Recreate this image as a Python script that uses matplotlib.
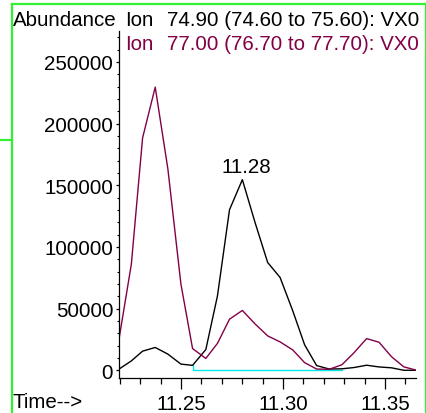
import matplotlib
matplotlib.use("Agg")
from matplotlib import pyplot as plt
from matplotlib.lines import Line2D
from matplotlib.ticker import MultipleLocator

plt.rcParams['font.family'] = ['Liberation Sans', 'DejaVu Sans']

# scan times (min) and ion abundances
times = [11.2195, 11.2257, 11.2312, 11.2374, 11.2436, 11.2500, 11.2557,
         11.2622, 11.2679, 11.2738, 11.2801, 11.2863, 11.2925, 11.2986,
         11.3048, 11.3106, 11.3165, 11.3227, 11.3289, 11.3347, 11.3410,
         11.3471, 11.3532, 11.3592, 11.3651]
ion_749 = [800, 7600, 15500, 18500, 13100, 5000, 4000, 16800, 60300, 130100,
           154500, 119900, 87400, 75200, 48200, 20700, 3800, 1000, 1200, 2200,
           4100, 2700, 2000, 0, 0]
ion_770 = [23800, 86000, 188300, 229500, 163200, 69800, 17600, 9600, 21800,
           41400, 48500, 37600, 27900, 23000, 16500, 6200, 1000, 800, 4500,
           14000, 25700, 22700, 11000, 2800, 200]

# integration baseline of the 11.28 peak
base_t = [11.2557, 11.2557, 11.3289]
base_y = [4000, 0, 0]

peak_t = 11.2801
peak_y = 154500
peak_label = "11.28"

label_749 = "74.90 (74.60 to 75.60): VX0"
label_770 = "77.00 (76.70 to 77.70): VX0"

W, H = 427, 414
purple = "#820046"
fs = 14.8

fig = plt.figure(figsize=(W / 100, H / 100), dpi=100)
ax = fig.add_axes([118.7 / W, 1 - 379.3 / H, (416 - 118.7) / W, (379.3 - 32) / H])

ax.plot(base_t, base_y, color="#00e8e8", lw=1.0)
ax.plot(times, ion_749, color="black", lw=1.0)
ax.plot(times, ion_770, color=purple, lw=1.0)
ax.annotate(peak_label, (peak_t, peak_y), xytext=(3, 5.5), textcoords="offset points",
            ha="center", va="baseline", fontsize=fs)

ax.set_xlim(11.2195, 11.3652)
ax.set_ylim(-6500, 275000)
for s in ("top", "right"):
    ax.spines[s].set_visible(False)
for s in ("left", "bottom"):
    ax.spines[s].set_linewidth(0.9)

ax.xaxis.set_major_locator(MultipleLocator(0.05))
ax.xaxis.set_minor_locator(MultipleLocator(0.01))
ax.yaxis.set_major_locator(MultipleLocator(50000))
ax.yaxis.set_minor_locator(MultipleLocator(10000))
ax.xaxis.set_major_formatter(lambda v, p: f"{v:.2f}")
ax.yaxis.set_major_formatter(lambda v, p: f"{v:.0f}")
ax.tick_params(axis="x", which="major", length=8, width=0.9, pad=3, labelsize=fs)
ax.tick_params(axis="x", which="minor", length=4.5, width=0.9)
ax.tick_params(axis="y", which="major", length=2.5, width=0.9, pad=1.5, labelsize=fs)
ax.tick_params(axis="y", which="minor", length=1.5, width=0.8)

# header texts
fig.text(13 / W, 1 - 25.5 / H, "Abundance", fontsize=fs, va="baseline")
fig.text(125 / W, 1 - 25.5 / H, "Ion", fontsize=fs, va="baseline")
fig.text(166.7 / W, 1 - 25.5 / H, label_749, fontsize=fs, va="baseline")
fig.text(125 / W, 1 - 50 / H, "Ion", fontsize=fs, va="baseline", color=purple)
fig.text(166.7 / W, 1 - 50 / H, label_770, fontsize=fs, va="baseline", color=purple)
fig.text(13 / W, 1 - 408.5 / H, "Time-->", fontsize=fs, va="baseline")

# green window frame
green = "#33f033"
frame = [([12, 12], [5, H]), ([12, 426], [5, 5]), ([426, 426], [5, H]), ([0, 12], [141, 141])]
for xs, ys in frame:
    fig.add_artist(Line2D([x / W for x in xs], [1 - y / H for y in ys],
                          transform=fig.transFigure, color=green, lw=1.6))

fig.savefig("out.png", dpi=100)
